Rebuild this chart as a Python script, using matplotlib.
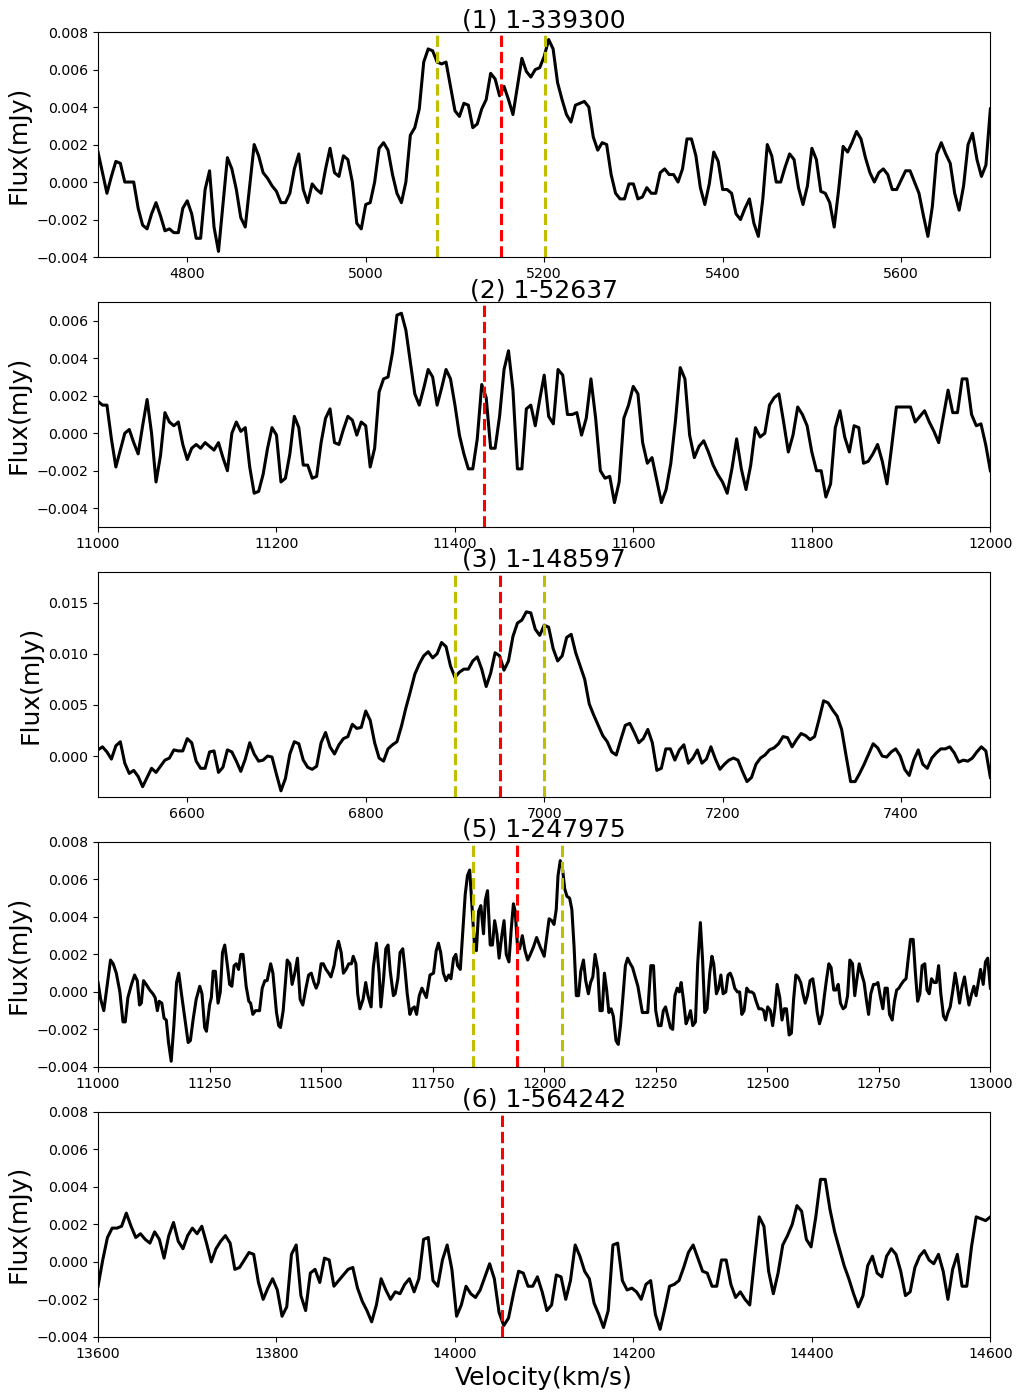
import numpy as np
import matplotlib
matplotlib.use("Agg")
import matplotlib.pyplot as plt

# panel titles, velocity ranges, y limits
titles = ["(1) 1-339300", "(2) 1-52637", "(3) 1-148597", "(5) 1-247975", "(6) 1-564242"]
vranges = [(4700, 5700), (11000, 12000), (6500, 7500), (11000, 13000), (13600, 14600)]
ylims = [(-0.004, 0.008), (-0.005, 0.007), (-0.004, 0.018), (-0.004, 0.008), (-0.004, 0.008)]

# marker lines (systemic velocity in red, line edges in yellow)
red_lines = [5152, 11433, 6950, 11940, 14053]
yellow_lines = [[5080, 5201], [], [6900, 7000], [11840, 12040], []]

# spectra (mJy); each "lo" part ends and each "hi" part starts at the split velocity
split_lo = [5200, 11500, 7000, None, 14060]
split_hi = [5205, 11505, 7005, None, 14066]

flux1_lo = [
    0.0016, 0.0005, -0.0006, 0.0003, 0.0011, 0.0010, 0.0000, 0.0000, 0.0000, -0.0014,
    -0.0023, -0.0025, -0.0017, -0.0011, -0.0018, -0.0026, -0.0025, -0.0027, -0.0027, -0.0014,
    -0.0010, -0.0017, -0.0030, -0.0030, -0.0004, 0.0006, -0.0024, -0.0037, -0.0012, 0.0013,
    0.0007, -0.0004, -0.0019, -0.0024, -0.0002, 0.0020, 0.0014, 0.0005, 0.0002, -0.0002,
    -0.0005, -0.0011, -0.0011, -0.0006, 0.0007, 0.0015, -0.0004, -0.0011, -0.0001, -0.0004,
    -0.0006, 0.0007, 0.0018, 0.0005, 0.0003, 0.0014, 0.0012, 0.0000, -0.0022, -0.0025,
    -0.0012, -0.0011, 0.0000, 0.0018, 0.0021, 0.0017, 0.0004, -0.0006, -0.0011, 0.0000,
    0.0025, 0.0029, 0.0039, 0.0064, 0.0071, 0.0070, 0.0064, 0.0063, 0.0064, 0.0051,
    0.0038, 0.0035, 0.0042, 0.0041, 0.0029, 0.0031, 0.0039, 0.0044, 0.0058, 0.0055,
    0.0046, 0.0051, 0.0044, 0.0036, 0.0051, 0.0066, 0.0059, 0.0056, 0.0060, 0.0061,
    0.0067,
]
flux1_hi = [
    0.0076, 0.0071, 0.0053, 0.0044, 0.0036, 0.0032, 0.0041, 0.0042, 0.0043, 0.0040,
    0.0024, 0.0017, 0.0021, 0.0020, 0.0004, -0.0006, -0.0009, -0.0009, -0.0001, -0.0001,
    -0.0009, -0.0008, -0.0003, -0.0006, -0.0006, 0.0005, 0.0007, 0.0004, 0.0004, 0.0000,
    0.0007, 0.0023, 0.0023, 0.0014, -0.0003, -0.0012, -0.0001, 0.0016, 0.0011, -0.0004,
    -0.0004, -0.0006, -0.0017, -0.0020, -0.0014, -0.0009, -0.0022, -0.0029, -0.0009, 0.0020,
    0.0014, 0.0000, 0.0000, 0.0008, 0.0015, 0.0012, -0.0003, -0.0012, -0.0002, 0.0018,
    0.0012, -0.0005, -0.0006, -0.0011, -0.0024, -0.0004, 0.0019, 0.0016, 0.0021, 0.0027,
    0.0023, 0.0013, 0.0005, 0.0000, 0.0005, 0.0007, 0.0004, -0.0004, -0.0004, 0.0001,
    0.0006, 0.0006, 0.0000, -0.0006, -0.0018, -0.0029, -0.0013, 0.0015, 0.0021, 0.0015,
    0.0010, -0.0006, -0.0015, -0.0002, 0.0020, 0.0026, 0.0012, 0.0003, 0.0009, 0.0039,
]

flux2_lo = [
    0.0017, 0.0015, 0.0015, -0.0003, -0.0018, -0.0009, 0.0000, 0.0002, -0.0005, -0.0011,
    0.0004, 0.0018, 0.0000, -0.0026, -0.0012, 0.0011, 0.0006, 0.0004, 0.0006, -0.0006,
    -0.0014, -0.0008, -0.0006, -0.0008, -0.0005, -0.0007, -0.0009, -0.0005, -0.0013, -0.0020,
    0.0000, 0.0006, 0.0001, 0.0003, -0.0018, -0.0032, -0.0031, -0.0022, -0.0008, 0.0003,
    -0.0001, -0.0026, -0.0024, -0.0011, 0.0009, 0.0003, -0.0017, -0.0017, -0.0024, -0.0023,
    -0.0005, 0.0008, 0.0013, -0.0005, -0.0006, 0.0002, 0.0009, 0.0007, -0.0001, 0.0006,
    0.0004, -0.0018, -0.0008, 0.0022, 0.0029, 0.0030, 0.0043, 0.0063, 0.0064, 0.0055,
    0.0038, 0.0021, 0.0015, 0.0024, 0.0034, 0.0030, 0.0015, 0.0024, 0.0034, 0.0029,
    0.0015, -0.0001, -0.0011, -0.0019, -0.0019, -0.0003, 0.0026, 0.0019, -0.0008, -0.0008,
    0.0009, 0.0034, 0.0044, 0.0023, -0.0019, -0.0019, 0.0013, 0.0015, 0.0004, 0.0018,
    0.0031,
]
flux2_hi = [
    0.0009, 0.0005, 0.0034, 0.0031, 0.0010, 0.0010, 0.0011, -0.0001, 0.0008, 0.0029,
    0.0008, -0.0020, -0.0024, -0.0023, -0.0037, -0.0026, 0.0008, 0.0015, 0.0025, 0.0021,
    -0.0005, -0.0016, -0.0013, -0.0025, -0.0037, -0.0030, -0.0016, 0.0007, 0.0035, 0.0029,
    -0.0001, -0.0013, -0.0007, -0.0004, -0.0010, -0.0017, -0.0022, -0.0026, -0.0032, -0.0019,
    -0.0003, -0.0019, -0.0030, -0.0017, 0.0003, -0.0002, 0.0000, 0.0015, 0.0019, 0.0021,
    0.0006, -0.0010, -0.0001, 0.0014, 0.0010, 0.0004, -0.0010, -0.0020, -0.0020, -0.0034,
    -0.0027, 0.0003, 0.0012, -0.0002, -0.0010, 0.0004, 0.0003, -0.0016, -0.0015, -0.0011,
    -0.0006, -0.0015, -0.0027, -0.0007, 0.0014, 0.0014, 0.0014, 0.0014, 0.0006, 0.0009,
    0.0012, 0.0006, 0.0001, -0.0005, 0.0009, 0.0023, 0.0011, 0.0011, 0.0029, 0.0029,
    0.0010, 0.0004, 0.0005, -0.0006, -0.0020,
]

flux3_lo = [
    0.0006, 0.0009, 0.0004, -0.0003, 0.0010, 0.0014, -0.0007, -0.0017, -0.0014, -0.0020,
    -0.0030, -0.0021, -0.0012, -0.0016, -0.0010, -0.0004, -0.0002, 0.0006, 0.0005, 0.0005,
    0.0017, 0.0013, -0.0005, -0.0012, -0.0012, 0.0004, 0.0005, -0.0016, -0.0011, 0.0006,
    0.0004, -0.0005, -0.0015, -0.0003, 0.0013, 0.0002, -0.0005, -0.0004, 0.0000, -0.0001,
    -0.0018, -0.0034, -0.0022, 0.0002, 0.0014, 0.0012, -0.0004, -0.0011, -0.0013, -0.0010,
    0.0013, 0.0023, 0.0009, 0.0002, 0.0011, 0.0017, 0.0019, 0.0031, 0.0027, 0.0028,
    0.0044, 0.0035, 0.0013, -0.0002, -0.0005, 0.0007, 0.0011, 0.0014, 0.0029, 0.0047,
    0.0063, 0.0080, 0.0090, 0.0098, 0.0102, 0.0096, 0.0100, 0.0111, 0.0107, 0.0088,
    0.0077, 0.0082, 0.0085, 0.0085, 0.0093, 0.0097, 0.0085, 0.0068, 0.0081, 0.0101,
    0.0098, 0.0084, 0.0093, 0.0117, 0.0130, 0.0133, 0.0141, 0.0140, 0.0124, 0.0118,
    0.0128,
]
flux3_hi = [
    0.0126, 0.0105, 0.0093, 0.0098, 0.0116, 0.0119, 0.0101, 0.0088, 0.0075, 0.0051,
    0.0040, 0.0030, 0.0020, 0.0014, 0.0004, 0.0001, 0.0016, 0.0030, 0.0032, 0.0023,
    0.0013, 0.0017, 0.0026, 0.0013, -0.0014, -0.0012, 0.0007, 0.0007, -0.0004, 0.0006,
    0.0011, -0.0007, -0.0002, 0.0006, -0.0007, -0.0003, 0.0009, -0.0003, -0.0013, -0.0008,
    -0.0004, -0.0002, -0.0004, -0.0015, -0.0025, -0.0021, -0.0008, -0.0002, 0.0001, 0.0006,
    0.0008, 0.0012, 0.0019, 0.0018, 0.0009, 0.0016, 0.0022, 0.0020, 0.0016, 0.0019,
    0.0036, 0.0054, 0.0052, 0.0045, 0.0039, 0.0026, 0.0000, -0.0025, -0.0025, -0.0017,
    -0.0008, 0.0002, 0.0012, 0.0008, 0.0000, -0.0001, 0.0004, 0.0007, 0.0000, -0.0013,
    -0.0019, -0.0004, 0.0006, -0.0008, -0.0012, -0.0002, 0.0003, 0.0007, 0.0007, 0.0009,
    0.0003, -0.0006, -0.0004, -0.0005, -0.0002, 0.0004, 0.0009, 0.0005, -0.0021,
]

# panel (5) was read at irregular channels, so its velocities are kept explicitly
vel4 = [
    11000, 11006, 11013, 11028, 11034, 11041, 11049, 11056, 11061, 11067,
    11075, 11082, 11088, 11093, 11097, 11102, 11108, 11116, 11123, 11128,
    11133, 11137, 11143, 11148, 11153, 11158, 11164, 11170, 11176, 11181,
    11187, 11194, 11202, 11207, 11213, 11220, 11228, 11233, 11239, 11243,
    11250, 11254, 11258, 11263, 11269, 11274, 11279, 11284, 11290, 11295,
    11300, 11305, 11310, 11315, 11320, 11325, 11332, 11338, 11342, 11347,
    11353, 11362, 11368, 11374, 11379, 11387, 11392, 11400, 11405, 11409,
    11415, 11424, 11430, 11435, 11441, 11447,
    11453, 11459, 11466, 11472, 11478, 11484, 11489, 11494, 11500, 11505,
    11511, 11517, 11522, 11529, 11534, 11539, 11545, 11550, 11556, 11562,
    11568, 11572, 11578, 11582, 11587, 11594, 11600, 11605, 11612, 11617,
    11624, 11630, 11634, 11640, 11645, 11650, 11655, 11662, 11666, 11672,
    11677, 11683, 11688, 11693, 11699, 11704, 11709, 11714, 11720, 11726,
    11732, 11736,
    11744, 11752, 11758, 11763, 11768, 11774, 11780, 11786, 11791, 11797,
    11802, 11806, 11812, 11817, 11823, 11828, 11833, 11836, 11840, 11844,
    11848, 11853, 11858, 11864, 11868, 11873, 11879, 11884, 11889, 11894,
    11899, 11905, 11910, 11915, 11921, 11926, 11931, 11935, 11940, 11945,
    11951, 11957, 11963, 11969, 11976, 11983, 11991, 12000, 12006, 12011,
    12017, 12022, 12027, 12031, 12036, 12041, 12046, 12051, 12057, 12062,
    12067, 12072, 12077, 12082, 12088, 12093, 12099, 12104, 12109, 12114,
    12120, 12125, 12130, 12135, 12140, 12145, 12150, 12155, 12161, 12166,
    12171, 12176, 12182, 12187, 12193,
    12198, 12204, 12210, 12215, 12220, 12226, 12232, 12239, 12245, 12250,
    12256, 12262, 12267, 12272, 12277, 12283, 12288, 12293, 12298, 12303,
    12307, 12312, 12318, 12323, 12328, 12333, 12339, 12344, 12350, 12355,
    12360, 12365, 12371, 12376, 12380, 12386, 12391, 12396, 12401, 12407,
    12412, 12417, 12422, 12427, 12433, 12438, 12443, 12448, 12454, 12460,
    12465, 12470, 12475, 12481, 12487, 12492, 12496, 12501, 12507, 12512,
    12517, 12522, 12528, 12533, 12538, 12543, 12549, 12554, 12559, 12564,
    12569, 12575, 12580, 12585, 12590, 12596, 12602, 12607, 12612, 12617,
    12623, 12628, 12633, 12638, 12643, 12649, 12654, 12659, 12664, 12670,
    12675, 12680, 12685, 12691, 12696, 12701, 12706, 12711, 12717, 12722,
    12727, 12732, 12738, 12743, 12748, 12753, 12759, 12764, 12769, 12774,
    12780, 12785, 12790, 12795, 12800, 12806, 12811, 12816, 12821, 12827,
    12832, 12837, 12842, 12847, 12853, 12858, 12863, 12868, 12874, 12879,
    12884, 12889, 12895, 12900, 12905, 12910, 12916, 12921, 12926, 12931,
    12936, 12942, 12947, 12952, 12957, 12963, 12968, 12973, 12978, 12984,
    12989, 12994, 13000,
]
flux4 = [
    0.0005, -0.0004, -0.0010, 0.0017, 0.0015, 0.0010, 0.0000, -0.0016, -0.0016, -0.0003,
    0.0004, 0.0009, 0.0006, -0.0007, -0.0006, 0.0006, 0.0004, 0.0001, -0.0001, -0.0003,
    -0.0010, -0.0005, -0.0006, -0.0014, -0.0015, -0.0027, -0.0037, -0.0018, 0.0005, 0.0010,
    -0.0001, -0.0013, -0.0027, -0.0026, -0.0015, -0.0004, 0.0003, -0.0001, -0.0019, -0.0021,
    -0.0007, -0.0003, 0.0011, 0.0011, -0.0006, 0.0000, 0.0021, 0.0025, 0.0014, 0.0004,
    0.0003, 0.0014, 0.0015, 0.0012, 0.0020, 0.0020, 0.0003, -0.0005, -0.0006, -0.0012,
    -0.0010, -0.0010, 0.0002, 0.0006, 0.0006, 0.0015, 0.0010, -0.0011, -0.0018, -0.0019,
    -0.0010, 0.0017, 0.0015, 0.0004, 0.0010, 0.0018,
    -0.0004, -0.0007, 0.0002, 0.0009, 0.0010, 0.0005, 0.0002, 0.0005, 0.0015, 0.0015,
    0.0012, 0.0010, 0.0008, 0.0014, 0.0022, 0.0027, 0.0021, 0.0010, 0.0012, 0.0015,
    0.0015, 0.0019, 0.0015, -0.0001, -0.0009, -0.0004, 0.0005, -0.0002, -0.0008, 0.0013,
    0.0026, 0.0010, -0.0008, 0.0007, 0.0023, 0.0025, 0.0011, -0.0002, -0.0001, 0.0007,
    0.0021, 0.0023, 0.0012, -0.0001, -0.0012, -0.0009, -0.0008, -0.0012, -0.0002, 0.0002,
    -0.0001, -0.0003,
    0.0009, 0.0010, 0.0022, 0.0026, 0.0021, 0.0010, 0.0006, 0.0009, 0.0007, 0.0018,
    0.0020, 0.0014, 0.0012, 0.0030, 0.0052, 0.0062, 0.0065, 0.0054, 0.0040, 0.0024,
    0.0022, 0.0043, 0.0046, 0.0031, 0.0049, 0.0054, 0.0025, 0.0025, 0.0038, 0.0031,
    0.0018, 0.0030, 0.0038, 0.0020, 0.0016, 0.0033, 0.0047, 0.0043, 0.0025, 0.0023,
    0.0030, 0.0022, 0.0017, 0.0020, 0.0024, 0.0029, 0.0024, 0.0019, 0.0030, 0.0039,
    0.0038, 0.0036, 0.0044, 0.0062, 0.0070, 0.0066, 0.0055, 0.0051, 0.0050, 0.0044,
    0.0024, -0.0002, -0.0002, 0.0011, 0.0017, 0.0006, -0.0001, 0.0005, 0.0008, 0.0020,
    0.0012, -0.0010, -0.0010, 0.0010, 0.0001, -0.0011, -0.0009, -0.0013, -0.0026, -0.0028,
    -0.0018, -0.0004, 0.0014, 0.0018, 0.0015,
    0.0013, 0.0008, 0.0003, -0.0004, -0.0011, -0.0011, -0.0011, 0.0014, 0.0014, -0.0010,
    -0.0018, -0.0018, -0.0010, -0.0008, -0.0013, -0.0019, -0.0020, -0.0002, 0.0002, 0.0000,
    0.0005, -0.0004, -0.0017, -0.0014, -0.0010, -0.0018, -0.0016, 0.0015, 0.0037, 0.0017,
    -0.0011, -0.0009, 0.0010, 0.0019, 0.0015, -0.0001, 0.0002, 0.0009, -0.0001, 0.0000,
    0.0009, 0.0010, 0.0007, 0.0002, 0.0000, 0.0000, -0.0012, -0.0010, 0.0002, 0.0000,
    0.0000, -0.0001, -0.0005, -0.0009, -0.0009, -0.0010, -0.0015, -0.0008, -0.0010, -0.0018,
    -0.0009, 0.0004, -0.0003, -0.0015, -0.0009, -0.0009, -0.0023, -0.0022, -0.0004, 0.0009,
    0.0008, 0.0005, -0.0001, -0.0006, -0.0002, 0.0006, 0.0007, -0.0001, -0.0011, -0.0017,
    -0.0012, -0.0002, 0.0007, 0.0015, 0.0013, 0.0001, 0.0001, 0.0004, -0.0006, -0.0009,
    -0.0008, -0.0002, 0.0017, 0.0015, -0.0002, 0.0007, 0.0015, 0.0010, 0.0005, -0.0004,
    -0.0012, -0.0001, 0.0004, 0.0004, 0.0005, -0.0002, -0.0009, 0.0002, 0.0002, -0.0012,
    -0.0015, -0.0005, 0.0001, 0.0002, 0.0004, 0.0006, 0.0007, 0.0018, 0.0028, 0.0028,
    0.0010, -0.0005, -0.0001, 0.0014, 0.0015, 0.0001, -0.0001, 0.0007, 0.0005, 0.0005,
    0.0014, -0.0001, -0.0013, -0.0015, -0.0011, -0.0008, 0.0001, 0.0010, 0.0003, -0.0006,
    0.0002, 0.0008, 0.0000, -0.0007, -0.0002, 0.0003, -0.0002, 0.0005, 0.0012, 0.0004,
    0.0016, 0.0018, 0.0002,
]

flux5_lo = [
    -0.0013, 0.0001, 0.0013, 0.0018, 0.0018, 0.0019, 0.0026, 0.0019, 0.0013, 0.0015,
    0.0012, 0.0010, 0.0016, 0.0012, 0.0002, 0.0014, 0.0021, 0.0011, 0.0007, 0.0014,
    0.0018, 0.0015, 0.0019, 0.0010, 0.0000, 0.0007, 0.0011, 0.0014, 0.0010, -0.0004,
    -0.0003, 0.0001, 0.0005, 0.0004, -0.0011, -0.0020, -0.0014, -0.0009, -0.0015, -0.0029,
    -0.0024, 0.0004, 0.0009, -0.0018, -0.0026, -0.0006, -0.0004, -0.0011, 0.0002, 0.0001,
    -0.0013, -0.0010, -0.0007, -0.0004, -0.0003, -0.0014, -0.0021, -0.0026, -0.0032, -0.0023,
    -0.0009, -0.0015, -0.0020, -0.0016, -0.0017, -0.0012, -0.0009, -0.0016, -0.0009, 0.0012,
    0.0013, -0.0010, -0.0013, 0.0001, 0.0009, -0.0004, -0.0029, -0.0023, -0.0013, -0.0017,
    -0.0019, -0.0015, -0.0008, -0.0001, -0.0009, -0.0027, -0.0034, -0.0030,
]
flux5_hi = [
    -0.0016, -0.0005, -0.0006, -0.0013, -0.0013, -0.0008, -0.0016, -0.0026, -0.0023, -0.0007,
    -0.0008, -0.0020, -0.0010, 0.0009, 0.0003, -0.0005, -0.0009, -0.0022, -0.0028, -0.0035,
    -0.0026, 0.0009, 0.0010, -0.0010, -0.0015, -0.0014, -0.0016, -0.0020, -0.0012, -0.0010,
    -0.0028, -0.0036, -0.0025, -0.0013, -0.0012, -0.0010, -0.0003, 0.0005, 0.0009, 0.0002,
    -0.0005, -0.0006, -0.0013, -0.0013, 0.0001, 0.0001, -0.0012, -0.0019, -0.0016, -0.0020,
    -0.0023, 0.0001, 0.0024, 0.0019, -0.0005, -0.0017, -0.0006, 0.0009, 0.0014, 0.0020,
    0.0030, 0.0027, 0.0012, 0.0008, 0.0024, 0.0044, 0.0044, 0.0028, 0.0016, 0.0007,
    -0.0002, -0.0009, -0.0017, -0.0024, -0.0018, -0.0002, 0.0003, -0.0006, -0.0008, 0.0003,
    0.0007, 0.0004, -0.0005, -0.0018, -0.0016, -0.0003, 0.0003, 0.0006, 0.0001, -0.0001,
    0.0004, -0.0005, -0.0020, -0.0004, 0.0004, -0.0013, -0.0013, 0.0008, 0.0024, 0.0023,
    0.0022, 0.0024,
]

halves = [(flux1_lo, flux1_hi), (flux2_lo, flux2_hi), (flux3_lo, flux3_hi), None, (flux5_lo, flux5_hi)]

vels, fluxes = [], []
for k in range(5):
    if halves[k] is None:
        vels.append(np.array(vel4, dtype=float))
        fluxes.append(np.array(flux4))
        continue
    lo, hi = halves[k]
    v_lo = np.linspace(vranges[k][0], split_lo[k], len(lo))
    v_hi = np.linspace(split_hi[k], vranges[k][1], len(hi))
    vels.append(np.concatenate([v_lo, v_hi]))
    fluxes.append(np.array(lo + hi))

fig, axes = plt.subplots(5, 1, figsize=(10.21, 13.94), dpi=100)
fig.subplots_adjust(left=0.096, right=0.970, top=0.977, bottom=0.041, hspace=0.2)

for k, ax in enumerate(axes):
    ax.plot(vels[k], fluxes[k], color="black", linewidth=2.2)
    for v in yellow_lines[k]:
        ax.axvline(v, color="y", linestyle="--", linewidth=2.2)
    ax.axvline(red_lines[k], color="r", linestyle="--", linewidth=2.2)
    ax.set_xlim(*vranges[k])
    ax.set_ylim(*ylims[k])
    ax.set_title(titles[k], fontsize=18, pad=3)
    ax.set_ylabel("Flux(mJy)", fontsize=18)
    ax.tick_params(labelsize=10.2)

axes[-1].set_xlabel("Velocity(km/s)", fontsize=18)

fig.savefig("out.png", dpi=100)
